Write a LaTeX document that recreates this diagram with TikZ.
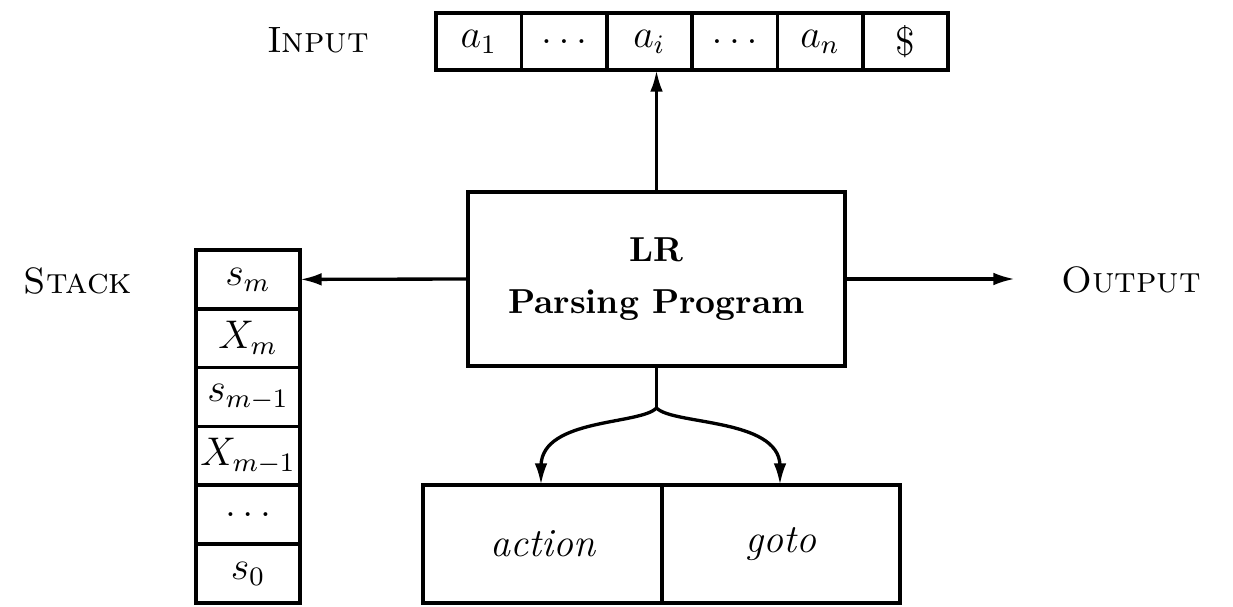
\documentclass[tikz,border=0pt]{standalone}
\usetikzlibrary{arrows.meta}
\begin{document}
\begin{tikzpicture}[x=0.3pt,y=-0.3pt,
  box/.style={draw,line width=1.1pt,inner sep=0pt,outer sep=0pt},
  incell/.style={box,minimum width=25.6pt,minimum height=17.1pt,font=\fontsize{12}{14}\selectfont},
  stcell/.style={box,minimum width=31.2pt,minimum height=17.64pt,font=\fontsize{11.5}{13}\selectfont},
  tcell/.style={box,minimum width=71.55pt,minimum height=35.4pt,font=\fontsize{12}{14}\selectfont\itshape},
  lbl/.style={font=\fontsize{11}{13}\selectfont,inner sep=0pt},
  arr/.style={line width=1pt,-{Latex[length=6.5pt,width=3.8pt]}}]
\useasboundingbox (0,0) rectangle (1233,607);

% input tape
\node[lbl] (inl) at (318,40) {\textsc{Input}};
\node[incell] (c1) at (478.7,41.5) {$a_1$};
\node[incell] (c2) at (564,41.5) {$\ldots$};
\node[incell] (ai) at (649.3,41.5) {$a_i$};
\node[incell] (c4) at (734.7,41.5) {$\ldots$};
\node[incell] (an) at (820,41.5) {$a_n$};
\node[incell] (c6) at (905.3,41.5) {\$};

% stack
\node[lbl] (stl) at (78,281) {\textsc{Stack}};
\node[stcell] (sm) at (248,279.4) {$s_m$};
\node[stcell] (xm) at (248,338.2) {$X_m$};
\node[stcell] (sm1) at (248,397) {$s_{m-1}$};
\node[stcell] (xm1) at (248,455.8) {$X_{m-1}$};
\node[stcell] (sd) at (248,514.6) {$\ldots$};
\node[stcell] (s0) at (248,573.4) {$s_0$};

% program
\node[box,minimum width=113.1pt,minimum height=52.2pt,align=center,
      font=\fontsize{10.4}{15.6}\selectfont\bfseries] (prog) at (656.5,279) {LR\\Parsing Program};

% output
\node[lbl] (outl) at (1131,280) {\textsc{Output}};
\coordinate (outtip) at (1015,279);

% table
\node[tcell] (action) at (542.5,544) {action};
\node[tcell] (goto) at (781,544) {goto};

% connectors
\draw[arr] (prog.north) -- (prog.north |- ai.south);
\draw[arr] (prog.west) -- (sm.east);
\draw[arr] (prog.east) -- (outtip);

\coordinate (jn) at (656.5,408);
\coordinate (la) at (541,465);
\coordinate (ra) at (780,465);
\draw[line width=1pt] (prog.south) -- (jn);
\draw[arr] (jn) .. controls (640,425) and (543,418) .. (la) -- (la |- action.north);
\draw[arr] (jn) .. controls (673,425) and (778,418) .. (ra) -- (ra |- goto.north);
\end{tikzpicture}
\end{document}
